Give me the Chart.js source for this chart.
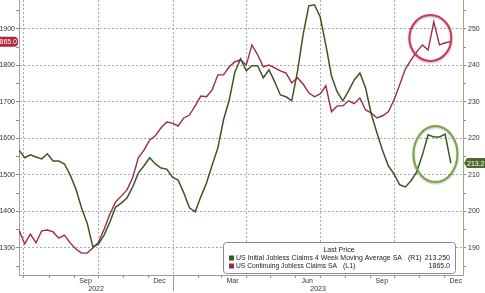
<!DOCTYPE html>
<html>
<head>
<meta charset="utf-8">
<script src="https://cdn.jsdelivr.net/npm/chart.js@4.4.0/dist/chart.umd.min.js"></script>
<style>
    html, body { margin: 0; padding: 0; background: #fff; }
    canvas { display: block; }
</style>
</head>
<body>
<canvas id="chart" width="485" height="293"></canvas>
<script>
// weekly data, first week ending 2022-06-25 (thousands)
var firstWeek = '2022-06-25';
var initialClaims4wk = [
    216.8, 214.7, 215.5, 214.9, 214.4, 215.8, 213.8, 213.8, 213.0, 210.0, 206.2, 201.0, 196.8, 190.3, 191.1,
    193.6, 197.1, 201.2, 202.3, 203.7, 206.7, 210.5, 212.5, 214.7, 213.0, 211.9, 211.6, 209.4, 208.6, 205.1,
    201.0, 199.9, 204.0, 207.8, 212.7, 217.4, 225.1, 230.5, 238.2, 241.8, 238.5, 239.9, 239.9, 236.6, 238.8,
    235.5, 231.9, 231.4, 230.3, 238.2, 248.4, 256.3, 256.6, 253.3, 245.6, 237.1, 232.7, 230.3, 233.0, 236.0,
    237.9, 233.8, 226.7, 221.5, 216.6, 212.5, 210.3, 207.3, 206.7, 208.4, 210.8, 215.5, 221.0, 220.4, 220.4, 221.2, 213.25
];
var continuingClaims = [
    1349, 1311, 1338, 1314, 1347, 1349, 1344, 1327, 1335, 1314, 1297, 1286, 1286, 1300, 1316,
    1352, 1393, 1426, 1442, 1459, 1492, 1547, 1568, 1596, 1607, 1629, 1645, 1642, 1634, 1656,
    1664, 1689, 1716, 1714, 1733, 1774, 1774, 1796, 1810, 1815, 1801, 1856, 1829, 1796, 1801,
    1793, 1785, 1779, 1752, 1766, 1749, 1725, 1714, 1722, 1744, 1673, 1689, 1689, 1703, 1695,
    1711, 1678, 1670, 1656, 1662, 1673, 1705, 1747, 1790, 1815, 1837, 1856, 1842, 1919, 1856, 1862, 1865
];
var seriesNames = ['US Initial Jobless Claims 4 Week Moving Average SA', 'US Continuing Jobless Claims SA'];
var axisTags = ['(R1)', '(L1)'];
var lastValues = ['213.250', '1865.0'];
var monthLabels = ['Sep', 'Dec', 'Mar', 'Jun', 'Sep', 'Dec'];
var monthLabelDates = ['2022-09-15', '2022-12-15', '2023-03-15', '2023-06-15', '2023-09-15', '2023-12-15'];
var yearLabels = ['2022', '2023'];
var leftTicks = [1300, 1400, 1500, 1600, 1700, 1800, 1900];
var rightTicks = [190, 200, 210, 220, 230, 240, 250];

var DAY = 864e5;
var EPOCH = Date.parse('2022-01-01');
function dayNum(s) { return (Date.parse(s) - EPOCH) / DAY; }

var xMin = dayNum(firstWeek);
var xMax = dayNum('2023-12-24');

var GREEN = '#3c5720';
var RED = '#9c2a4c';
var GRID = '#a9a9a9';
var FONT = {family: 'Liberation Sans', size: 7};
var TEXT = '#333';

function toPoints(values) {
    return values.map(function (v, i) { return {x: xMin + 7 * i, y: v}; });
}

function monthStarts(min, max) {
    var out = [];
    var d = new Date(EPOCH + min * DAY);
    var y = d.getUTCFullYear(), m = d.getUTCMonth() + 1;
    for (;;) {
        var v = (Date.UTC(y, m, 1) - EPOCH) / DAY;
        if (v > max) break;
        out.push({value: v});
        m++;
    }
    return out;
}

function isQuarterStart(v) {
    if (v === undefined) return false;
    var d = new Date(EPOCH + v * DAY);
    return d.getUTCDate() === 1 && d.getUTCMonth() % 3 === 0;
}

function stepTicks(from, to, step) {
    var out = [];
    for (var v = from; v <= to; v += step) out.push({value: v});
    return out;
}

function noPad(s) {
    s.paddingTop = 0; s.paddingBottom = 0; s.paddingLeft = 0; s.paddingRight = 0;
}

var overlay = {
    id: 'overlay',
    afterDatasetsDraw: function (chart, args, opts) {
        var ctx = chart.ctx, x = chart.scales.x;
        opts.circles.forEach(function (c) {
            var sc = chart.scales[c.axis];
            ctx.save();
            ctx.beginPath();
            ctx.ellipse(x.getPixelForValue(xMin + 7 * c.week), sc.getPixelForValue(c.value),
                c.rx, c.ry, 0, 0, 2 * Math.PI);
            ctx.lineWidth = 2;
            ctx.strokeStyle = c.color;
            ctx.shadowColor = 'rgba(0,0,0,0.3)';
            ctx.shadowBlur = 2;
            ctx.shadowOffsetY = 1;
            ctx.stroke();
            ctx.restore();
        });
    },
    afterDraw: function (chart) {
        var ctx = chart.ctx, ca = chart.chartArea;
        var x = chart.scales.x, yl = chart.scales.y, yr = chart.scales.y1;

        // year separator under the axis
        var sep = Math.round(x.getPixelForValue(dayNum('2023-01-01'))) + 0.5;
        ctx.save();
        ctx.strokeStyle = '#9a9a9a';
        ctx.lineWidth = 1;
        ctx.beginPath();
        ctx.moveTo(sep, ca.bottom);
        ctx.lineTo(sep, chart.height - 2);
        ctx.stroke();

        // legend box
        var bw = 232, bh = 31;
        var bx = ca.right - 8 - bw, by = ca.bottom - 2 - bh;
        ctx.beginPath();
        ctx.roundRect(bx + 0.5, by + 0.5, bw, bh, 3);
        ctx.fillStyle = '#fff';
        ctx.fill();
        ctx.strokeStyle = '#8a8a8a';
        ctx.stroke();

        ctx.font = '7px "Liberation Sans"';
        ctx.fillStyle = '#222';
        ctx.textBaseline = 'middle';
        ctx.textAlign = 'center';
        ctx.fillText('Last Price', bx + 116, by + 8);

        var colors = [GREEN, RED];
        var tagX = [185, 120];
        var labelMax = [166, 101];
        for (var i = 0; i < 2; i++) {
            var ry = by + 16 + i * 8;
            ctx.fillStyle = colors[i];
            ctx.fillRect(bx + 6, ry - 2.5, 5, 5);
            ctx.fillStyle = '#222';
            ctx.textAlign = 'left';
            ctx.fillText(seriesNames[i], bx + 13, ry, labelMax[i]);
            ctx.fillText(axisTags[i], bx + tagX[i], ry);
            ctx.textAlign = 'right';
            ctx.fillText(lastValues[i], bx + bw - 5, ry);
        }

        // last value badges
        var lastIdx = continuingClaims.length - 1;
        var py = yl.getPixelForValue(continuingClaims[lastIdx]);
        ctx.beginPath();
        ctx.roundRect(-6, py - 5, ca.left - 1 + 6, 10, 4);
        ctx.fillStyle = '#b3243f';
        ctx.fill();
        ctx.fillStyle = '#fff';
        ctx.textAlign = 'right';
        ctx.fillText(lastValues[1], ca.left - 2, py + 0.5);

        var gy = yr.getPixelForValue(initialClaims4wk[lastIdx]);
        ctx.beginPath();
        ctx.moveTo(ca.right + 1, gy);
        ctx.lineTo(ca.right + 4, gy - 5);
        ctx.lineTo(chart.width + 2, gy - 5);
        ctx.lineTo(chart.width + 2, gy + 5);
        ctx.lineTo(ca.right + 4, gy + 5);
        ctx.closePath();
        ctx.fillStyle = '#4b6a2c';
        ctx.fill();
        ctx.fillStyle = '#fff';
        ctx.textAlign = 'left';
        ctx.fillText(lastValues[0], ca.right + 4, gy + 0.5);
        ctx.restore();
    }
};

var chart = new Chart(document.getElementById('chart'), {
    type: 'line',
    data: {
        datasets: [{
            label: seriesNames[0],
            data: toPoints(initialClaims4wk),
            yAxisID: 'y1',
            borderColor: GREEN,
            borderWidth: 1.5,
            pointRadius: 0,
            tension: 0
        }, {
            label: seriesNames[1],
            data: toPoints(continuingClaims),
            yAxisID: 'y',
            borderColor: RED,
            borderWidth: 1.4,
            pointRadius: 0,
            tension: 0
        }]
    },
    options: {
        responsive: false,
        maintainAspectRatio: false,
        animation: false,
        devicePixelRatio: 1,
        layout: {padding: 0},
        plugins: {
            legend: {display: false},
            tooltip: {enabled: false},
            overlay: {
                circles: [
                    {axis: 'y', week: 72.4, value: 1875, rx: 21, ry: 23, color: '#cf3a52'},
                    {axis: 'y1', week: 73.3, value: 215.7, rx: 22, ry: 28, color: '#7ba247'}
                ]
            }
        },
        scales: {
            x: {
                type: 'linear', position: 'bottom', weight: 0,
                min: xMin, max: xMax,
                afterBuildTicks: function (s) { s.ticks = monthStarts(s.min, s.max); },
                ticks: {display: false},
                grid: {
                    color: function (c) { return isQuarterStart(c.tick && c.tick.value) ? GRID : 'rgba(0,0,0,0)'; },
                    tickColor: '#8c8c8c', tickLength: 3, lineWidth: 1
                },
                border: {color: '#9a9a9a', dash: [2, 2]},
                afterFit: function (s) { s.height = 2; noPad(s); }
            },
            x2: {
                type: 'linear', position: 'bottom', weight: 1,
                min: xMin, max: xMax,
                afterBuildTicks: function (s) {
                    s.ticks = monthLabelDates.map(function (d) { return {value: dayNum(d)}; });
                },
                ticks: {
                    callback: function (v, i) { return monthLabels[i]; },
                    font: FONT, color: TEXT, padding: 0, maxRotation: 0, autoSkip: false
                },
                grid: {display: false, drawTicks: false},
                border: {display: false},
                afterFit: function (s) { s.height = 8; noPad(s); }
            },
            x3: {
                type: 'linear', position: 'bottom', weight: 2,
                min: xMin, max: xMax,
                afterBuildTicks: function (s) {
                    s.ticks = yearLabels.map(function (y) {
                        var a = Math.max(dayNum(y + '-01-01'), s.min);
                        var b = Math.min(dayNum((+y + 1) + '-01-01'), s.max);
                        return {value: (a + b) / 2};
                    });
                },
                ticks: {
                    callback: function (v, i) { return yearLabels[i]; },
                    font: FONT, color: TEXT, padding: 0, maxRotation: 0, autoSkip: false
                },
                grid: {display: false, drawTicks: false},
                border: {display: false},
                afterFit: function (s) { s.height = 8; noPad(s); }
            },
            y: {
                position: 'left',
                min: 1226, max: 1979,
                afterBuildTicks: function (s) { s.ticks = stepTicks(1250, 1950, 50); },
                ticks: {
                    callback: function (v) { return leftTicks.indexOf(v) >= 0 ? v : ''; },
                    font: FONT, color: TEXT, padding: 1
                },
                grid: {
                    color: function (c) { return c.tick && leftTicks.indexOf(c.tick.value) >= 0 ? GRID : 'rgba(0,0,0,0)'; },
                    tickColor: '#8c8c8c', tickLength: 3, lineWidth: 1
                },
                border: {color: '#a39bab', dash: [2, 2]},
                afterFit: function (s) { s.width = 19; noPad(s); }
            },
            y1: {
                position: 'right',
                min: 182.6, max: 257.9,
                afterBuildTicks: function (s) { s.ticks = stepTicks(185, 255, 5); },
                ticks: {
                    callback: function (v) { return rightTicks.indexOf(v) >= 0 ? v : ''; },
                    font: FONT, color: TEXT, padding: 2
                },
                grid: {drawOnChartArea: false, tickColor: '#8c8c8c', tickLength: 3},
                border: {color: '#a4a47e'},
                afterFit: function (s) { s.width = 22; noPad(s); }
            }
        }
    },
    plugins: [overlay]
});
</script>
</body>
</html>
